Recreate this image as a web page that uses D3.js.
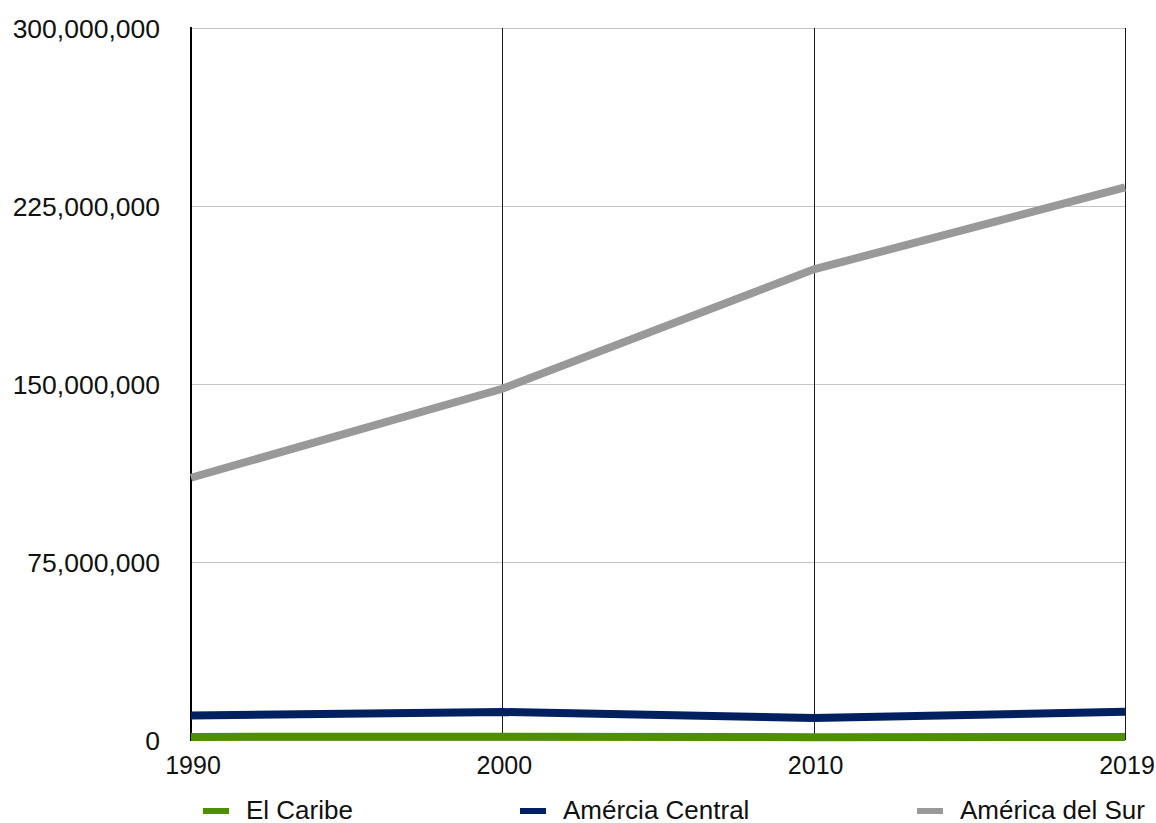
<!DOCTYPE html>
<html>
<head>
<meta charset="utf-8">
<script src="https://cdn.jsdelivr.net/npm/d3@7"></script>
<style>
  body { margin: 0; background: #fff; }
  text { font-family: "Liberation Sans", Arial, sans-serif; fill: #111; }
</style>
</head>
<body>
<svg width="1156" height="823"></svg>
<script>
// data
var years = ["1990", "2000", "2010", "2019"];
var caribe = [1300000, 1400000, 1200000, 1300000];
var centro = [10300000, 11800000, 9300000, 11900000];
var sur = [110500000, 148000000, 198300000, 232800000];
var yTicks = [0, 75000000, 150000000, 225000000, 300000000];

var series = [
  { name: "El Caribe", values: caribe, color: "#4e8f00" },
  { name: "Amércia Central", values: centro, color: "#002060" },
  { name: "América del Sur", values: sur, color: "#999999" }
];

var svg = d3.select("svg");
var plotLeft = 191, plotRight = 1125, plotTop = 28, plotBottom = 740;

var x = d3.scalePoint().domain(years).range([plotLeft, plotRight]);
var y = d3.scaleLinear().domain([0, 300000000]).range([plotBottom, plotTop]);

// horizontal grid
svg.append("g")
  .selectAll("line")
  .data(yTicks)
  .enter().append("line")
  .attr("x1", plotLeft).attr("x2", plotRight)
  .attr("y1", function(d) { return y(d) + 0.5; })
  .attr("y2", function(d) { return y(d) + 0.5; })
  .attr("stroke", "#c6c6c6")
  .attr("stroke-width", 1);

// vertical lines at each year
svg.append("g")
  .selectAll("line")
  .data(years.slice(1))
  .enter().append("line")
  .attr("x1", function(d) { return Math.round(x(d)) + 0.5; })
  .attr("x2", function(d) { return Math.round(x(d)) + 0.5; })
  .attr("y1", plotTop).attr("y2", plotBottom)
  .attr("stroke", "#1a1a1a")
  .attr("stroke-width", 1);

// left axis line
svg.append("line")
  .attr("x1", plotLeft).attr("x2", plotLeft)
  .attr("y1", plotTop - 1).attr("y2", plotBottom + 1)
  .attr("stroke", "#000")
  .attr("stroke-width", 2);

// y labels
svg.append("g")
  .selectAll("text")
  .data(yTicks)
  .enter().append("text")
  .attr("x", 160)
  .attr("y", function(d) { return y(d); })
  .attr("dy", "0.36em")
  .attr("text-anchor", "end")
  .attr("font-size", "26.5px")
  .text(function(d) { return d3.format(",")(d); });

// x labels
svg.append("g")
  .selectAll("text")
  .data(years)
  .enter().append("text")
  .attr("x", function(d) { return x(d) + 2; })
  .attr("y", 765)
  .attr("dy", "0.36em")
  .attr("text-anchor", "middle")
  .attr("font-size", "25px")
  .text(function(d) { return d; });

// lines
var line = d3.line()
  .x(function(d, i) { return x(years[i]); })
  .y(function(d) { return y(d); });

svg.append("g")
  .selectAll("path")
  .data(series.slice().reverse())
  .enter().append("path")
  .attr("d", function(s) { return line(s.values); })
  .attr("fill", "none")
  .attr("stroke", function(s) { return s.color; })
  .attr("stroke-width", 8)
  .attr("stroke-linejoin", "round");

// legend
var legendX = [203, 520, 917];
var lg = svg.append("g")
  .selectAll("g")
  .data(series)
  .enter().append("g")
  .attr("transform", function(d, i) { return "translate(" + legendX[i] + ",810)"; });

lg.append("rect")
  .attr("x", 0).attr("y", -2)
  .attr("width", 26).attr("height", 6)
  .attr("fill", function(d) { return d.color; });

lg.append("text")
  .attr("x", 43)
  .attr("dy", "0.36em")
  .attr("font-size", "26px")
  .text(function(d) { return d.name; });
</script>
</body>
</html>
